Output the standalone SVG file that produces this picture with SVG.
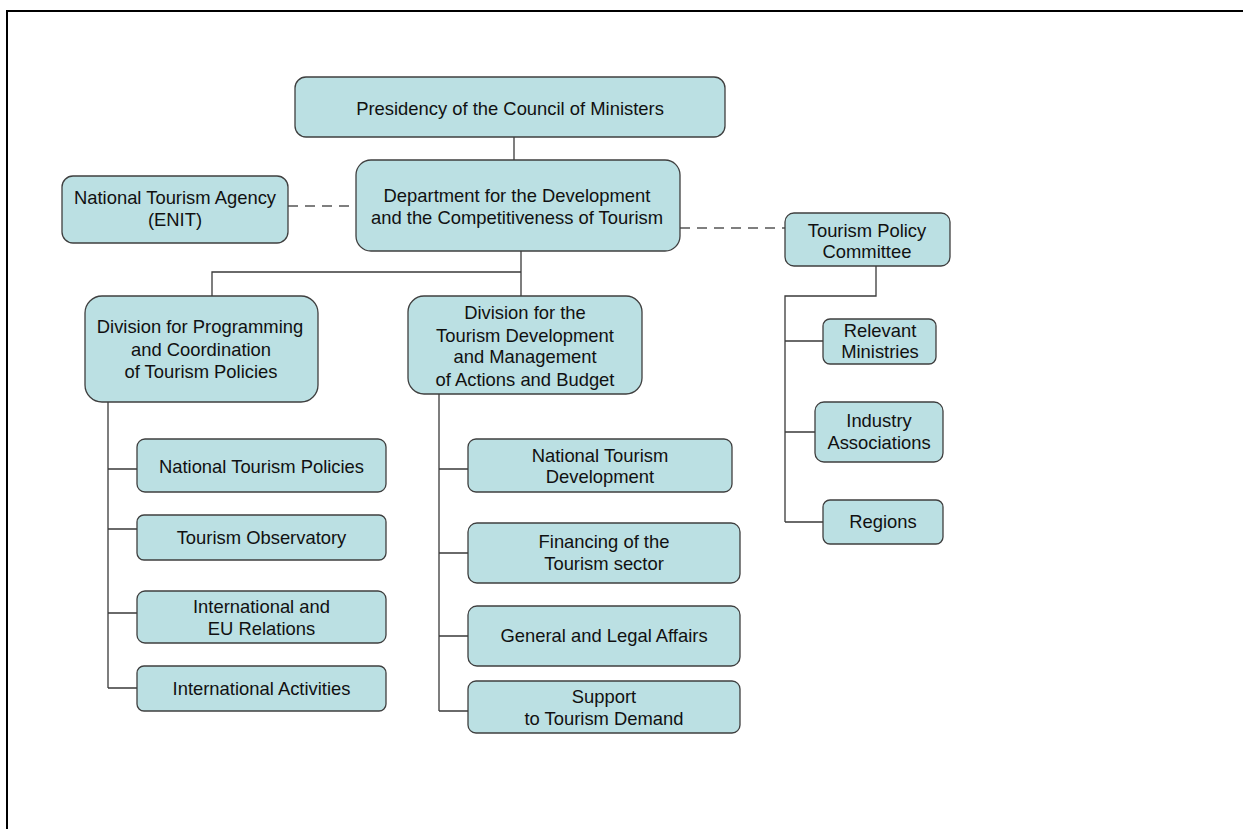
<svg xmlns="http://www.w3.org/2000/svg" width="1243" height="829" viewBox="0 0 1243 829">
<style>
.n rect{fill:#bbe0e3;stroke:#3f3f3f;stroke-width:1.3}
.n text{font-family:"Liberation Sans",Arial,sans-serif;font-size:18.4px;fill:#111;text-anchor:middle}
.c path{fill:none;stroke:#3a3a3a;stroke-width:1.3}
.c path.d{stroke:#555;stroke-dasharray:10,7}
</style>
<rect x="7" y="11" width="1250" height="830" fill="#fff" stroke="#000" stroke-width="2"/>
<g class="c" id="connectors">
<path d="M514,137V160"/>
<path class="d" d="M288,206H356"/>
<path class="d" d="M680,228H785"/>
<path d="M521,251V296M212,296V272H521"/>
<path d="M876,266V296H785V522M785,341H823M785,432H815M785,522H823"/>
<path d="M108,402V688M108,469H137M108,529H137M108,613H137M108,688H137"/>
<path d="M439,394V711M439,469H468M439,553H468M439,636H468M439,711H468"/>
</g>
<g class="n" id="presidency"><rect x="295" y="77" width="430" height="60" rx="11"/><text x="510" y="115">Presidency of the Council of Ministers</text></g>
<g class="n" id="department"><rect x="356" y="160" width="324" height="91" rx="15"/><text x="517" y="202">Department for the Development</text><text x="517" y="224">and the Competitiveness of Tourism</text></g>
<g class="n" id="enit"><rect x="62" y="176" width="226" height="67" rx="11"/><text x="175" y="204">National Tourism Agency</text><text x="175" y="226">(ENIT)</text></g>
<g class="n" id="committee"><rect x="785" y="213" width="165" height="53" rx="9"/><text x="867" y="237">Tourism Policy</text><text x="867" y="258">Committee</text></g>
<g class="n" id="ministries"><rect x="823" y="319" width="113" height="45" rx="7"/><text x="880" y="337">Relevant</text><text x="880" y="358">Ministries</text></g>
<g class="n" id="industry"><rect x="815" y="402" width="128" height="60" rx="9"/><text x="879" y="427">Industry</text><text x="879" y="449">Associations</text></g>
<g class="n" id="regions"><rect x="823" y="500" width="120" height="44" rx="7"/><text x="883" y="528">Regions</text></g>
<g class="n" id="div1"><rect x="85" y="296" width="233" height="106" rx="17"/><text x="200" y="333">Division for Programming</text><text x="201" y="356">and Coordination</text><text x="201" y="378">of Tourism Policies</text></g>
<g class="n" id="div2"><rect x="408" y="296" width="234" height="98" rx="16"/><text x="525" y="319">Division for the</text><text x="525" y="342">Tourism Development</text><text x="525" y="363">and Management</text><text x="525" y="386">of Actions and Budget</text></g>
<g class="n" id="policies"><rect x="137" y="439" width="249" height="53" rx="8"/><text x="261.5" y="473">National Tourism Policies</text></g>
<g class="n" id="observatory"><rect x="137" y="515" width="249" height="45" rx="7"/><text x="261.5" y="544">Tourism Observatory</text></g>
<g class="n" id="eurelations"><rect x="137" y="591" width="249" height="52" rx="8"/><text x="261.5" y="613">International and</text><text x="261.5" y="635">EU Relations</text></g>
<g class="n" id="activities"><rect x="137" y="666" width="249" height="45" rx="7"/><text x="261.5" y="695">International Activities</text></g>
<g class="n" id="development"><rect x="468" y="439" width="264" height="53" rx="8"/><text x="600" y="462">National Tourism</text><text x="600" y="483">Development</text></g>
<g class="n" id="financing"><rect x="468" y="523" width="272" height="60" rx="9"/><text x="604" y="548">Financing of the</text><text x="604" y="570">Tourism sector</text></g>
<g class="n" id="legal"><rect x="468" y="606" width="272" height="60" rx="9"/><text x="604" y="642">General and Legal Affairs</text></g>
<g class="n" id="demand"><rect x="468" y="681" width="272" height="52" rx="8"/><text x="604" y="703">Support</text><text x="604" y="725">to Tourism Demand</text></g>
</svg>
